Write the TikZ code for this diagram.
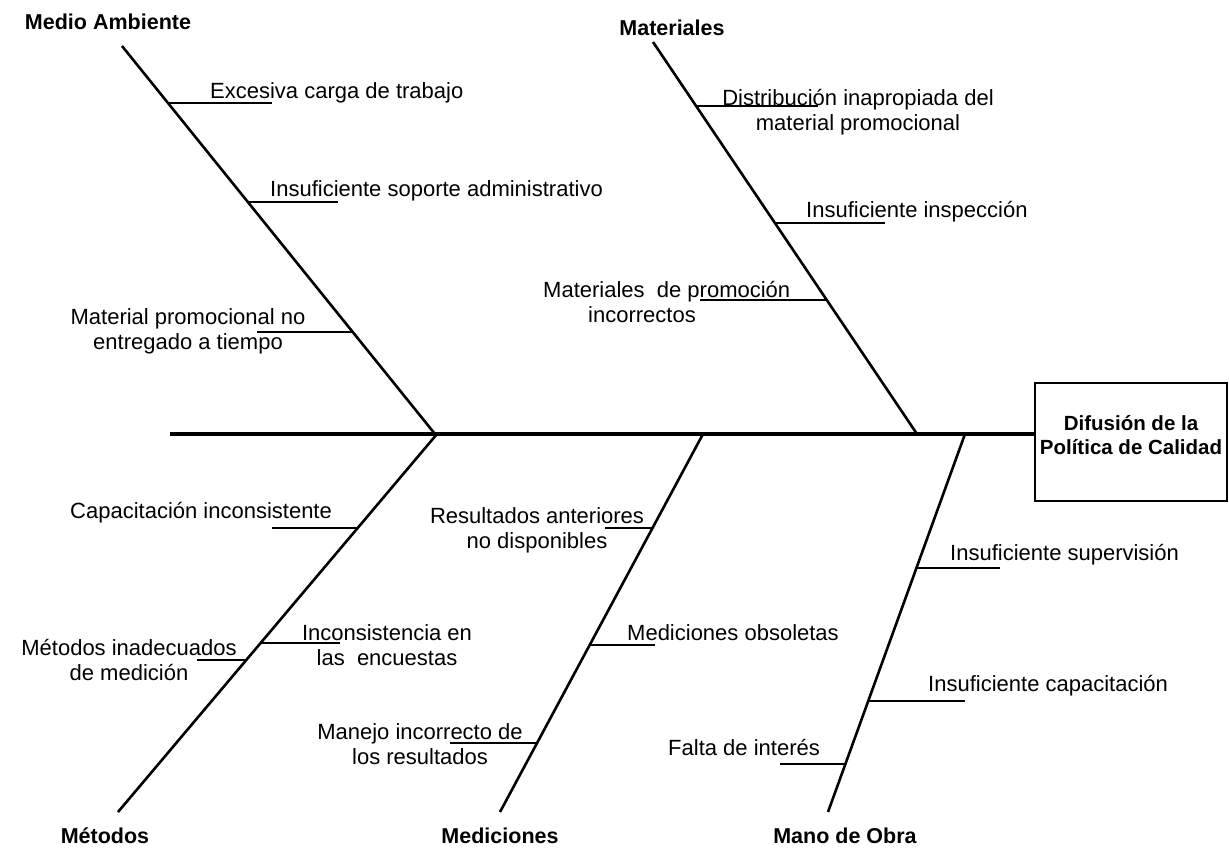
\documentclass[tikz,border=0pt]{standalone}
\usepackage{fontspec}
\setmainfont{Liberation Sans}
\usetikzlibrary{calc}
\tikzset{
	causa/.style={font=\fontsize{22}{25}\selectfont, inner sep=0pt, align=center},
	categoria/.style={font=\bfseries\fontsize{21.5}{25}\selectfont, inner sep=0pt},
	espina/.style={line width=2.6pt},
	ramita/.style={line width=1.6pt},
}
\begin{document}
\begin{tikzpicture}[x=1pt,y=-1pt]
	\useasboundingbox (0,0) rectangle (1229,854);
	
	% efecto
	\node[draw, line width=1.6pt, minimum width=192pt, minimum height=118pt, inner sep=0pt] (efecto) at (1131,442) {};
	\node[categoria, align=center, font=\bfseries\fontsize{20.5}{24}\selectfont] (efectotxt) at (1131,435) {Difusión de la\\Política de Calidad};
	
	\coordinate (cola) at (170,434);
	\draw[line width=3.5pt] (cola) -- (cola -| efecto.west);
	
	% categorias
	\node[categoria] (ambiente) at (108,22) {Medio Ambiente};
	\node[categoria] (materiales) at (672,28) {Materiales};
	\node[categoria] (metodos) at (105,836) {Métodos};
	\node[categoria] (mediciones) at (500,836) {Mediciones};
	\node[categoria] (manoobra) at (845,836) {Mano de Obra};
	
	\coordinate (a0) at (122,46);
	\coordinate (a1) at (435,434);
	\coordinate (b0) at (653,42);
	\coordinate (b1) at (917,434);
	\coordinate (c0) at (118,812);
	\coordinate (c1) at (437,434);
	\coordinate (d0) at (500,812);
	\coordinate (d1) at (703,434);
	\coordinate (e0) at (828,812);
	\coordinate (e1) at (965,434);
	
	\draw[espina] (a0) -- (a1);
	\draw[espina] (b0) -- (b1);
	\draw[espina] (c0) -- (c1);
	\draw[espina] (d0) -- (d1);
	\draw[espina] (e0) -- (e1);
	
	% Medio Ambiente
	\coordinate (a2) at ($(a0)!0.147!(a1)$);
	\coordinate (a3) at ($(a0)!0.402!(a1)$);
	\coordinate (a4) at ($(a0)!0.737!(a1)$);
	\draw[ramita] (a2) -- (a2 -| 272,0);
	\draw[ramita] (a3) -- (a3 -| 338,0);
	\draw[ramita] (a4) -- (a4 -| 257,0);
	\node[causa, anchor=base west] (a2t) at (210,98) {Excesiva carga de trabajo};
	\node[causa, anchor=base west] (a3t) at (270,196) {Insuficiente soporte administrativo};
	\node[causa] (a4t) at (188,331) {Material promocional no\\entregado a tiempo};
	
	% Materiales
	\coordinate (b2) at ($(b0)!0.163!(b1)$);
	\coordinate (b3) at ($(b0)!0.462!(b1)$);
	\coordinate (b4) at ($(b0)!0.658!(b1)$);
	\draw[ramita] (b2) -- (b2 -| 818,0);
	\draw[ramita] (b3) -- (b3 -| 885,0);
	\draw[ramita] (b4) -- (b4 -| 700,0);
	\node[causa] (b2t) at (858,112) {Distribución inapropiada del\\material promocional};
	\node[causa, anchor=base west] (b3t) at (806,217) {Insuficiente inspección};
	\node[causa, align=left, anchor=west] (b4t) at (543,302) {Materiales\ \ de promoción\\\hspace*{45pt}incorrectos};
	
	% Metodos
	\coordinate (c2) at ($(c1)!0.249!(c0)$);
	\coordinate (c3) at ($(c1)!0.553!(c0)$);
	\coordinate (c4) at ($(c1)!0.598!(c0)$);
	\draw[ramita] (c2) -- (c2 -| 272,0);
	\draw[ramita] (c3) -- (c3 -| 340,0);
	\draw[ramita] (c4) -- (c4 -| 197,0);
	\node[causa, anchor=base west] (c2t) at (70,518) {Capacitación inconsistente};
	\node[causa] (c3t) at (387,645) {Inconsistencia en\\las\ \ encuestas};
	\node[causa] (c4t) at (129,660) {Métodos inadecuados\\de medición};
	
	% Mediciones
	\coordinate (d2) at ($(d1)!0.249!(d0)$);
	\coordinate (d3) at ($(d1)!0.558!(d0)$);
	\coordinate (d4) at ($(d1)!0.817!(d0)$);
	\draw[ramita] (d2) -- (d2 -| 605,0);
	\draw[ramita] (d3) -- (d3 -| 655,0);
	\draw[ramita] (d4) -- (d4 -| 450,0);
	\node[causa] (d2t) at (537,530) {Resultados anteriores\\no disponibles};
	\node[causa, anchor=base west] (d3t) at (627,640) {Mediciones obsoletas};
	\node[causa] (d4t) at (420,744) {Manejo incorrecto de\\los resultados};
	
	% Mano de Obra
	\coordinate (e2) at ($(e1)!0.354!(e0)$);
	\coordinate (e3) at ($(e1)!0.706!(e0)$);
	\coordinate (e4) at ($(e1)!0.873!(e0)$);
	\draw[ramita] (e2) -- (e2 -| 1000,0);
	\draw[ramita] (e3) -- (e3 -| 965,0);
	\draw[ramita] (e4) -- (e4 -| 780,0);
	\node[causa, anchor=base west] (e2t) at (950,560) {Insuficiente supervisión};
	\node[causa, anchor=base west] (e3t) at (928,691) {Insuficiente capacitación};
	\node[causa, anchor=base west] (e4t) at (668,755) {Falta de interés};
	
\end{tikzpicture}
\end{document}
